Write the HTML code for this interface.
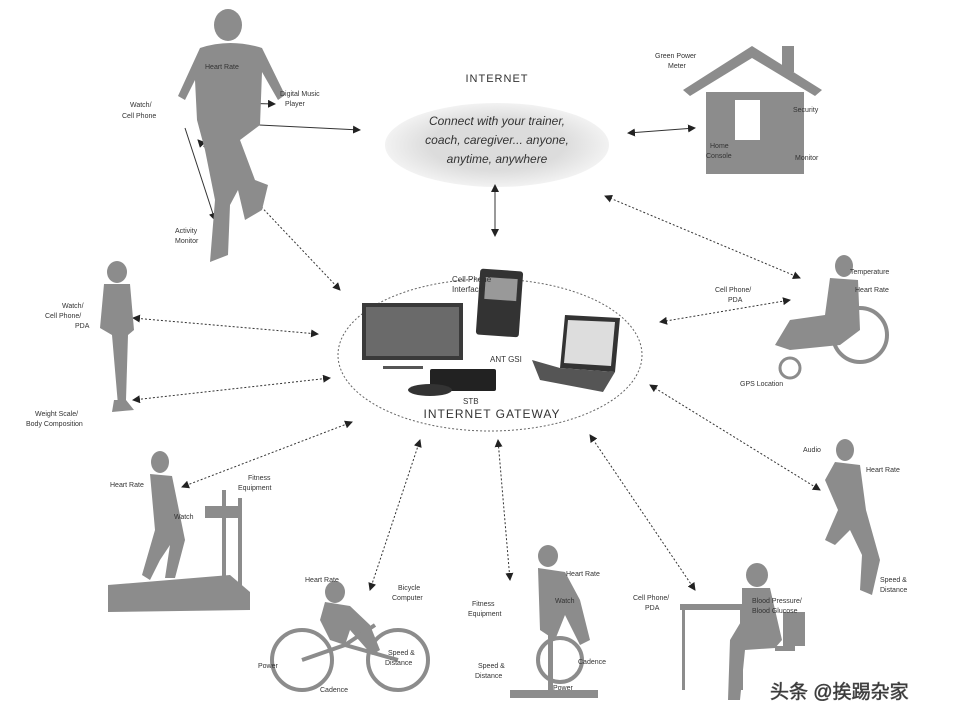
<!DOCTYPE html>
<html><head><meta charset="utf-8"><style>
html,body{margin:0;padding:0;background:#fff;}
svg{display:block;}
text{font-family:"Liberation Sans",sans-serif;fill:#333;}
</style></head><body>
<svg width="968" height="726" viewBox="0 0 968 726" xmlns="http://www.w3.org/2000/svg">
<defs>
<marker id="a" markerWidth="8" markerHeight="8" refX="7" refY="4" orient="auto"><path d="M0,0 L8,4 L0,8z" fill="#222"/></marker>
<marker id="b" markerWidth="8" markerHeight="8" refX="1" refY="4" orient="auto"><path d="M8,0 L0,4 L8,8z" fill="#222"/></marker>
<radialGradient id="cl"><stop offset="0.6" stop-color="#dcdcdc"/><stop offset="1" stop-color="#f2f2f2"/></radialGradient>
</defs>
<rect width="968" height="726" fill="#fff"/>

<!-- internet cloud -->
<ellipse cx="497" cy="145" rx="112" ry="42" fill="url(#cl)"/>
<text x="497" y="82" font-size="11" text-anchor="middle" letter-spacing="1">INTERNET</text>
<text x="497" y="125" font-size="12" text-anchor="middle" font-style="italic">Connect with your trainer,</text>
<text x="497" y="144" font-size="12" text-anchor="middle" font-style="italic">coach, caregiver... anyone,</text>
<text x="497" y="163" font-size="12" text-anchor="middle" font-style="italic">anytime, anywhere</text>

<!-- gateway -->
<ellipse cx="490" cy="355" rx="152" ry="76" fill="none" stroke="#666" stroke-width="1" stroke-dasharray="2,2"/>
<text x="492" y="418" font-size="12" text-anchor="middle" fill="#666" letter-spacing="1">INTERNET GATEWAY</text>
<rect x="362" y="303" width="101" height="57" fill="#3a3a3a"/>
<rect x="366" y="307" width="93" height="49" fill="#6a6a6a"/>
<rect x="383" y="366" width="40" height="3" fill="#555"/>
<rect x="478" y="270" width="43" height="66" rx="3" fill="#333" transform="rotate(4 500 303)"/>
<rect x="484" y="278" width="32" height="22" fill="#999" transform="rotate(4 500 303)"/>
<text x="452" y="282" font-size="8">Cell Phone</text>
<text x="452" y="292" font-size="8">Interface</text>
<path d="M565 315 L620 318 L615 372 L560 368z" fill="#333"/>
<path d="M568 320 L615 322 L611 366 L564 363z" fill="#ddd"/>
<path d="M532 360 L560 368 L615 372 L603 392 L540 380z" fill="#555"/>
<rect x="430" y="369" width="66" height="22" rx="2" fill="#222"/>
<ellipse cx="430" cy="390" rx="22" ry="6" fill="#333"/>
<text x="463" y="404" font-size="8">STB</text>
<text x="490" y="362" font-size="8">ANT GSI</text>

<!-- connectors -->
<g stroke="#333" stroke-width="1" fill="none">
<line x1="495" y1="185" x2="495" y2="236" marker-start="url(#b)" marker-end="url(#a)"/>
<line x1="200" y1="122" x2="360" y2="130" marker-start="url(#b)" marker-end="url(#a)"/>
<line x1="628" y1="133" x2="695" y2="128" marker-start="url(#b)" marker-end="url(#a)"/>
<line x1="198" y1="102" x2="275" y2="104" marker-start="url(#b)" marker-end="url(#a)"/>
<line x1="185" y1="128" x2="215" y2="220" marker-end="url(#a)"/>
<line x1="198" y1="140" x2="340" y2="290" stroke-dasharray="2,2" marker-start="url(#b)" marker-end="url(#a)"/>
<line x1="133" y1="318" x2="318" y2="334" stroke-dasharray="2,2" marker-start="url(#b)" marker-end="url(#a)"/>
<line x1="133" y1="400" x2="330" y2="378" stroke-dasharray="2,2" marker-start="url(#b)" marker-end="url(#a)"/>
<line x1="182" y1="487" x2="352" y2="422" stroke-dasharray="2,2" marker-start="url(#b)" marker-end="url(#a)"/>
<line x1="370" y1="590" x2="420" y2="440" stroke-dasharray="2,2" marker-start="url(#b)" marker-end="url(#a)"/>
<line x1="510" y1="580" x2="498" y2="440" stroke-dasharray="2,2" marker-start="url(#b)" marker-end="url(#a)"/>
<line x1="695" y1="590" x2="590" y2="435" stroke-dasharray="2,2" marker-start="url(#b)" marker-end="url(#a)"/>
<line x1="820" y1="490" x2="650" y2="385" stroke-dasharray="2,2" marker-start="url(#b)" marker-end="url(#a)"/>
<line x1="790" y1="300" x2="660" y2="322" stroke-dasharray="2,2" marker-start="url(#b)" marker-end="url(#a)"/>
<line x1="800" y1="278" x2="605" y2="196" stroke-dasharray="2,2" marker-start="url(#b)" marker-end="url(#a)"/>
</g>

<!-- runner top-left -->
<g fill="#8c8c8c">
<ellipse cx="228" cy="25" rx="14" ry="16"/>
<path d="M200 48 Q230 38 262 48 L285 95 L278 100 L262 72 L260 125 L240 140 L255 180 L268 185 L262 210 L245 220 L238 190 L230 205 L228 255 L210 262 L215 200 L205 150 L197 120 L195 80 L185 100 L178 96z"/>
</g>
<text x="205" y="69" font-size="7">Heart Rate</text>
<text x="280" y="96" font-size="7">Digital Music</text>
<text x="285" y="106" font-size="7">Player</text>
<text x="130" y="107" font-size="7">Watch/</text>
<text x="122" y="118" font-size="7">Cell Phone</text>
<text x="175" y="233" font-size="7">Activity</text>
<text x="175" y="243" font-size="7">Monitor</text>

<!-- house -->
<g fill="#8c8c8c">
<path d="M683 90 L752 46 L822 90 L815 96 L752 58 L690 96z"/>
<rect x="782" y="46" width="12" height="26"/>
<rect x="706" y="92" width="98" height="82"/>
<rect x="735" y="100" width="25" height="40" fill="#fff"/>
</g>
<text x="655" y="58" font-size="7">Green Power</text>
<text x="668" y="68" font-size="7">Meter</text>
<text x="793" y="112" font-size="7">Security</text>
<text x="710" y="148" font-size="7">Home</text>
<text x="706" y="158" font-size="7">Console</text>
<text x="795" y="160" font-size="7">Monitor</text>

<!-- wheelchair -->
<g fill="#8c8c8c">
<ellipse cx="844" cy="266" rx="9" ry="11"/>
<path d="M830 278 L858 280 L860 330 L840 345 L790 350 L775 345 L790 320 L825 315z"/>
</g>
<circle cx="860" cy="335" r="27" fill="none" stroke="#8c8c8c" stroke-width="4"/>
<circle cx="790" cy="368" r="10" fill="none" stroke="#8c8c8c" stroke-width="3"/>
<text x="715" y="292" font-size="7">Cell Phone/</text>
<text x="728" y="302" font-size="7">PDA</text>
<text x="850" y="274" font-size="7">Temperature</text>
<text x="855" y="292" font-size="7">Heart Rate</text>
<text x="740" y="386" font-size="7">GPS Location</text>

<!-- standing person left -->
<g fill="#8c8c8c">
<ellipse cx="117" cy="272" rx="10" ry="11"/>
<path d="M104 284 L130 284 L134 330 L128 335 L126 400 L118 405 L112 335 L100 328z"/>
<path d="M126 400 L134 410 L112 412 L114 400z"/>
</g>
<text x="62" y="308" font-size="7">Watch/</text>
<text x="45" y="318" font-size="7">Cell Phone/</text>
<text x="75" y="328" font-size="7">PDA</text>
<text x="35" y="416" font-size="7">Weight Scale/</text>
<text x="26" y="426" font-size="7">Body Composition</text>

<!-- treadmill -->
<g fill="#8c8c8c">
<ellipse cx="160" cy="462" rx="9" ry="11"/>
<path d="M150 474 L172 476 L185 540 L175 578 L165 578 L170 545 L160 560 L150 580 L142 575 L155 530z"/>
<path d="M108 585 L230 575 L250 592 L250 610 L108 612z"/>
<rect x="222" y="490" width="4" height="88"/>
<rect x="238" y="498" width="4" height="90"/>
<rect x="205" y="506" width="35" height="12"/>
</g>
<text x="110" y="487" font-size="7">Heart Rate</text>
<text x="248" y="480" font-size="7">Fitness</text>
<text x="238" y="490" font-size="7">Equipment</text>
<text x="174" y="519" font-size="7">Watch</text>

<!-- bicycle -->
<g fill="#8c8c8c">
<ellipse cx="335" cy="592" rx="10" ry="11"/>
<path d="M325 602 L350 606 L370 625 L380 650 L372 655 L350 630 L345 645 L330 640 L320 620z"/>
</g>
<g fill="none" stroke="#8c8c8c" stroke-width="4">
<circle cx="302" cy="660" r="30"/><circle cx="398" cy="660" r="30"/>
<path d="M302 660 L345 645 L398 660 M345 645 L375 625"/>
</g>
<text x="305" y="582" font-size="7">Heart Rate</text>
<text x="398" y="590" font-size="7">Bicycle</text>
<text x="392" y="600" font-size="7">Computer</text>
<text x="388" y="655" font-size="7">Speed &amp;</text>
<text x="385" y="665" font-size="7">Distance</text>
<text x="258" y="668" font-size="7">Power</text>
<text x="320" y="692" font-size="7">Cadence</text>

<!-- exercise bike -->
<g fill="#8c8c8c">
<ellipse cx="548" cy="556" rx="10" ry="11"/>
<path d="M538 568 L565 572 L580 600 L590 640 L580 645 L565 615 L555 640 L540 630z"/>
<path d="M510 690 L598 690 L598 698 L510 698z"/>
<rect x="548" y="610" width="5" height="80"/>
</g>
<circle cx="560" cy="660" r="22" fill="none" stroke="#8c8c8c" stroke-width="4"/>
<text x="472" y="606" font-size="7">Fitness</text>
<text x="468" y="616" font-size="7">Equipment</text>
<text x="566" y="576" font-size="7">Heart Rate</text>
<text x="555" y="603" font-size="7">Watch</text>
<text x="478" y="668" font-size="7">Speed &amp;</text>
<text x="475" y="678" font-size="7">Distance</text>
<text x="578" y="664" font-size="7">Cadence</text>
<text x="553" y="690" font-size="7">Power</text>

<!-- desk person -->
<g fill="#8c8c8c">
<ellipse cx="757" cy="575" rx="11" ry="12"/>
<path d="M742 588 L770 588 L782 640 L775 648 L745 650 L740 700 L728 700 L730 640 L742 620z"/>
<rect x="680" y="604" width="66" height="6"/>
<rect x="682" y="610" width="3" height="80"/><rect x="740" y="610" width="3" height="80"/>
<rect x="783" y="612" width="22" height="34"/>
<rect x="775" y="646" width="20" height="5"/>
</g>
<text x="633" y="600" font-size="7">Cell Phone/</text>
<text x="645" y="610" font-size="7">PDA</text>
<text x="752" y="603" font-size="7">Blood Pressure/</text>
<text x="752" y="613" font-size="7">Blood Glucose</text>

<!-- runner right -->
<g fill="#8c8c8c">
<ellipse cx="845" cy="450" rx="9" ry="11"/>
<path d="M835 462 L860 465 L866 510 L880 560 L872 595 L860 590 L862 555 L850 530 L835 545 L825 540 L838 510 L825 480z"/>
</g>
<text x="803" y="452" font-size="7">Audio</text>
<text x="866" y="472" font-size="7">Heart Rate</text>
<text x="880" y="582" font-size="7">Speed &amp;</text>
<text x="880" y="592" font-size="7">Distance</text>

<!-- watermark -->
<text x="770" y="698" font-size="19" fill="#fff" stroke="#555" stroke-width="0.6" font-family="'Liberation Sans','Noto Sans CJK SC',sans-serif">头条 @挨踢杂家</text>
</svg>
</body></html>
